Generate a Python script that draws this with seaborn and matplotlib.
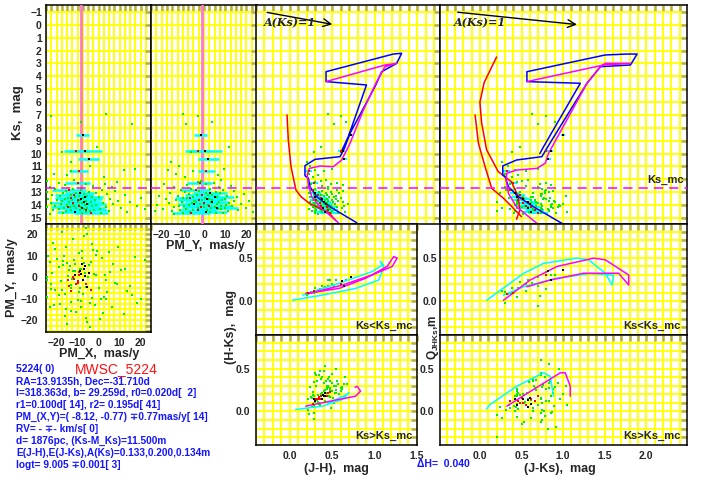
import numpy as np
import pandas as pd
import matplotlib
matplotlib.use('Agg')
import matplotlib.pyplot as plt
import seaborn as sns
from matplotlib.ticker import MultipleLocator, FormatStrFormatter

# --- field stars (green) ---
field_ks = [6.95, 7.08, 7.57, 7.70, 9.47, 9.85, 10.63, 10.95, 11.22, 11.28, 11.33, 11.55, 11.70, 11.85,
            12.05, 12.10, 12.20, 12.28, 12.35, 12.40, 12.45, 12.52, 12.60, 12.62,
            12.75, 12.78, 12.82, 12.86, 12.90, 12.93, 12.97, 13.00, 13.03, 13.06,
            13.10, 13.12, 13.15, 13.18, 13.21, 13.24, 13.27, 13.30, 13.32, 13.35,
            13.38, 13.40, 13.43, 13.45, 13.48, 13.50, 13.52, 13.55, 13.57, 13.60,
            13.62, 13.64, 13.67, 13.69, 13.71, 13.73, 13.76, 13.78, 13.80, 13.82,
            13.84, 13.86, 13.88, 13.90, 13.92, 13.94, 13.96, 13.98, 14.00, 14.02,
            14.04, 14.06, 14.08, 14.10, 14.12, 14.14, 14.16, 14.18, 14.20, 14.22,
            14.24, 14.26, 14.28, 14.30, 14.32, 14.34, 14.36, 14.38, 14.40, 14.42,
            14.44, 14.46, 14.48, 14.50, 14.52, 14.55, 14.58, 14.61, 14.64, 14.68]
field_pmx = [3.5, -22.4, -8.2, 16.0, -0.6, -17.3, -13.3, -4.0, 17.6, 12.0, -13.3, -21.0, -15.0, 2.5,
             -11.5, -24.5, 9.0, -19.0, -6.0, 3.0, -16.0, -2.5, -23.0, 6.5,
             -12.0, -20.5, 1.5, -8.5, -15.5, 8.0, -4.5, -24.6, -10.5, -1.0,
             -17.0, 4.0, -7.0, -13.0, 12.5, -22.0, -5.5, -9.5, -18.5, 0.0,
             -11.0, -3.0, 20.0, -14.5, -7.5, -24.0, 5.5, -16.0, -9.0, -1.5,
             -20.0, -12.5, 9.5, -6.0, -17.5, -3.5, -10.0, 15.0, -14.0, -8.0,
             -22.5, 2.0, -5.0, -12.0, -18.0, 7.0, -9.5, -1.0, -15.0, -6.5,
             18.5, -11.5, -20.5, -3.0, -13.5, 3.5, -8.5, -24.5, -16.5, 10.5,
             -5.5, -10.5, 0.5, -19.0, -7.0, 22.0, -13.0, -2.0, -21.5, -9.0,
             5.0, -15.5, -4.0, 13.5, -11.0, -6.0, -17.0, 1.0, -8.0, -23.0]
field_pmy = [-10.0, -3.0, 4.0, -8.5, 12.0, -6.0, -15.6, -12.0, 9.5, -17.0, -5.0, -13.0, 6.5, -9.0,
             8.0, -1.5, -3.0, 4.5, -19.0, 1.0, -8.0, 12.5, 7.0, -14.0,
             3.0, -6.0, 9.0, -11.0, 14.0, -2.5, 5.5, -9.0, -16.0, 1.0,
             7.5, -7.0, 19.0, -3.5, 4.0, 2.0, -21.0, 11.0, -12.5, -5.0,
             6.0, 15.5, -10.0, 0.5, -8.0, 10.0, 2.5, -18.0, 4.0, -13.0,
             8.5, -1.0, 14.0, -4.5, 21.0, 7.0, -10.5, -4.0, 3.5, 12.0,
             -5.5, -16.5, 0.0, 17.5, -2.0, 6.0, -7.0, 10.5, -22.0, 2.0,
             -12.0, 8.0, 13.0, -9.5, 5.0, -1.5, -14.0, 0.0, 10.0, 3.5,
             20.0, -3.0, -19.5, -8.5, 6.5, 8.0, -11.5, 1.5, 16.0, -5.0,
             11.5, -15.0, -23.0, -6.5, 3.0, 23.0, 5.5, -10.0, 9.0, -14.0]
field_jh = [0.45, 0.60, 0.66, 0.52, 0.36, 0.28, 0.20, 0.24, 0.50, 0.30, 0.40, 0.22, 0.33, 0.27,
            0.42, 0.36, 0.30, 0.55, 0.48, 0.25, 0.62, 0.38, 0.20, 0.45,
            0.30, 0.45, 0.55, 0.26, 0.38, 0.62, 0.34, 0.48, 0.22, 0.42,
            0.58, 0.30, 0.50, 0.36, 0.44, 0.28, 0.54, 0.32, 0.40, 0.52,
            0.24, 0.46, 0.35, 0.60, 0.29, 0.43, 0.38, 0.54, 0.31, 0.49,
            0.27, 0.41, 0.57, 0.33, 0.45, 0.23, 0.62, 0.37, 0.51, 0.28,
            0.44, 0.35, 0.68, 0.40, 0.30, 0.53, 0.46, 0.25, 0.42, 0.36,
            0.48, 0.32, 0.42, 0.64, 0.27, 0.50, 0.39, 0.55, 0.34, 0.45,
            0.29, 0.61, 0.37, 0.47, 0.22, 0.52, 0.43, 0.31, 0.36, 0.40,
            0.26, 0.50, 0.29, 0.65, 0.38, 0.44, 0.30, 0.56, 0.48, 0.33]
field_jks = [0.63, 0.80, 0.90, 0.70, 0.48, 0.38, 0.27, 0.34, 0.70, 0.42, 0.55, 0.30, 0.46, 0.38,
             0.58, 0.50, 0.45, 0.80, 0.72, 0.36, 0.85, 0.55, 0.30, 0.70,
             0.42, 0.75, 0.80, 0.31, 0.78, 0.88, 0.48, 0.83, 0.24, 0.64,
             0.78, 0.75, 0.74, 0.44, 0.74, 0.46, 1.03, 0.45, 0.73, 0.62,
             0.52, 0.64, 0.77, 0.84, 0.35, 0.79, 0.53, 0.76, 0.61, 0.53,
             0.46, 0.66, 0.89, 0.44, 0.83, 0.20, 0.90, 0.57, 0.67, 0.62,
             0.70, 0.44, 1.00, 0.87, 0.44, 0.74, 0.86, 0.42, 0.95, 0.43,
             0.75, 0.67, 0.54, 0.96, 0.50, 0.94, 0.58, 0.85, 0.44, 0.73,
             0.27, 0.88, 0.75, 0.64, 0.36, 0.82, 0.65, 0.73, 0.83, 0.64,
             0.42, 0.83, 0.20, 1.05, 0.59, 0.73, 0.41, 0.92, 0.73, 0.52]
field_q = [0.21, 0.34, 0.30, 0.28, 0.22, 0.15, 0.12, 0.08, 0.18, 0.12, 0.20, 0.11, 0.15, 0.09,
           0.24, 0.16, 0.05, 0.14, 0.06, 0.10, 0.30, 0.12, -0.02, -0.05,
           0.14, 0.28, 0.12, 0.02, -0.05, 0.26, 0.19, 0.33, 0.05, 0.04,
           0.40, -0.10, 0.16, 0.18, -0.02, 0.22, 0.30, 0.20, 0.15, -0.08,
           0.10, 0.36, 0.00, 0.35, 0.08, 0.26, -0.12, 0.31, 0.13, 0.10,
           0.03, 0.27, 0.06, 0.09, 0.12, -0.04, 0.28, 0.21, 0.37, 0.15,
           0.07, 0.24, 0.20, -0.01, -0.06, 0.42, 0.18, 0.00, 0.50, 0.05,
           0.02, 0.25, 0.11, 0.15, -0.15, 0.33, 0.14, -0.02, 0.26, 0.45,
           -0.08, 0.22, 0.10, 0.38, 0.04, -0.20, 0.30, -0.12, 0.55, 0.01,
           0.18, 0.27, -0.30, 0.08, 0.34, 0.60, 0.06, -0.18, 0.16, 0.20]

# --- probable members (red / black) with errors ---
memb_ks = [8.56, 9.78, 9.82, 10.45, 11.35, 12.31, 12.85, 13.05, 13.20, 13.35, 13.45,
           13.55, 13.62, 13.75, 13.85, 13.95, 14.05, 14.15, 14.25, 14.40, 14.50, 14.60]
memb_pmx = [-7.5, -6.2, -10.6, -4.6, -9.4, -10.0, -14.0, -9.0, -11.5, -6.5, -13.0,
            -8.5, -10.0, -7.0, -12.0, -5.5, -9.5, -14.5, -8.0, -6.0, -11.0, -3.5]
memb_pmx_err = [3.0, 8.0, 6.0, 5.0, 4.5, 6.0, 8.0, 7.0, 9.0, 8.5, 7.5,
                10.0, 9.0, 8.0, 11.0, 9.0, 10.0, 8.0, 11.0, 10.0, 9.0, 8.0]
memb_pmy = [-1.5, 0.5, -3.0, 2.0, 1.0, -2.0, -4.0, 3.0, -1.0, 5.0, -6.5,
            1.5, -2.5, 4.0, 0.0, -4.5, 2.5, -1.5, 6.0, -3.0, 1.0, -6.0]
memb_pmy_err = [3.0, 8.0, 6.0, 5.0, 4.0, 6.0, 7.0, 8.0, 8.0, 9.0, 7.0,
                9.0, 10.0, 8.0, 9.0, 8.0, 11.0, 9.0, 10.0, 9.0, 10.0, 9.0]
memb_jh = [0.72, 0.62, 0.60, 0.64, 0.22, 0.28, 0.27, 0.30, 0.33, 0.29, 0.36,
           0.38, 0.31, 0.40, 0.35, 0.42, 0.37, 0.44, 0.39, 0.45, 0.41, 0.47]
memb_jks = [1.00, 0.85, 0.80, 0.82, 0.32, 0.40, 0.36, 0.42, 0.48, 0.44, 0.50,
            0.52, 0.46, 0.58, 0.52, 0.60, 0.55, 0.62, 0.58, 0.66, 0.62, 0.70]
memb_q = [0.36, 0.25, 0.30, 0.35, 0.08, 0.10, 0.12, 0.14, 0.10, 0.08, 0.16,
          0.15, 0.12, 0.13, 0.10, 0.16, 0.08, 0.14, 0.05, 0.12, 0.09, 0.18]
memb_col_err = [0.02, 0.03, 0.03, 0.03, 0.04, 0.05, 0.05, 0.06, 0.06, 0.07, 0.07,
                0.08, 0.08, 0.08, 0.09, 0.09, 0.10, 0.10, 0.10, 0.11, 0.11, 0.12]
memb_kind = ['black', 'black', 'red', 'black', 'red', 'red', 'red', 'black', 'red', 'black', 'red',
             'black', 'red', 'black', 'red', 'black', 'red', 'red', 'black', 'red', 'black', 'red']

# cluster parameters
pm_x0, pm_y0 = -8.12, -0.77
ks_mc = 12.67
red_vec_jh, red_vec_jks, red_vec_ak = 0.83, 1.5, 1.0

# --- isochrones ---
blue_c_jh = [0.785, 0.47, 0.314, 0.235, 0.216, 0.176, 0.176, 0.294, 0.588, 0.64, 0.706, 1.0, 1.079,
             1.255, 1.314, 1.215, 0.424, 0.424, 0.9, 0.686, 0.60]
blue_c_ks = [15.37, 14.13, 13.35, 12.57, 11.92, 11.72, 10.94, 10.45, 10.24, 9.6, 8.43, 4.8, 3.64,
             2.99, 2.21, 2.27, 3.64, 4.41, 4.67, 8.69, 9.9]
mag_c_jh = [0.569, 0.353, 0.255, 0.216, 0.204, 0.227, 0.353, 0.51, 0.608, 0.706, 0.863, 1.02,
            1.118, 1.255, 1.118, 0.424]
mag_c_ks = [15.37, 14.13, 13.35, 12.44, 11.67, 11.15, 10.97, 11.02, 10.5, 9.21, 6.62, 4.41,
            3.25, 2.99, 3.12, 4.41]
red_c_jh = [-0.035, -0.02, 0.012, 0.07, 0.13, 0.227, 0.46, 0.54]
red_c_ks = [7.0, 8.95, 11.02, 12.83, 13.35, 13.86, 14.6, 15.21]

blue_d_jks = [0.986, 0.644, 0.463, 0.343, 0.303, 0.275, 0.275, 0.44, 0.745, 0.865, 1.287, 1.45,
              1.81, 1.89, 1.77, 1.508, 0.565, 0.565, 1.207, 0.765, 0.72]
blue_d_ks = [15.42, 14.13, 13.35, 12.57, 11.8, 11.66, 10.96, 10.5, 10.24, 8.95, 4.54, 3.25,
             3.12, 2.27, 2.27, 2.34, 3.64, 4.41, 4.54, 9.47, 10.0]
mag_d_jks = [0.685, 0.44, 0.343, 0.315, 0.323, 0.44, 0.685, 0.785, 0.825, 1.287, 1.448, 1.508,
             1.81, 1.488, 0.565]
mag_d_ks = [15.42, 14.13, 13.1, 12.05, 11.53, 11.28, 11.15, 10.75, 9.98, 4.54, 3.25, 2.99,
            2.99, 3.12, 4.41]
red_d1_jks = [-0.058, -0.018, 0.062, 0.142, 0.283, 0.38, 0.5]
red_d1_ks = [7.0, 9.2, 11.02, 12.7, 13.47, 14.1, 14.9]
red_d2_jks = [0.2, 0.05, 0.0, 0.02, 0.08, 0.22, 0.38, 0.46, 0.48, 0.44]
red_d2_ks = [2.5, 4.5, 6.0, 7.6, 9.7, 11.4, 12.2, 13.35, 14.4, 15.1]

cyan_f_jh = [0.031, 0.384, 0.776, 1.05, 1.11, 1.07, 1.10, 0.97, 0.58, 0.267, 0.15]
cyan_f_hks = [0.012, 0.07, 0.147, 0.244, 0.40, 0.457, 0.42, 0.34, 0.206, 0.108, 0.07]
mag_f_jh = [0.188, 0.58, 0.894, 1.149, 1.227, 1.267, 1.208, 0.97, 0.62, 0.227]
mag_f_hks = [0.089, 0.147, 0.264, 0.40, 0.515, 0.496, 0.40, 0.302, 0.186, 0.089]
cyan_g_jh = [0.07, 0.384, 0.62, 0.698, 0.66, 0.45]
cyan_g_hks = [0.023, 0.062, 0.14, 0.217, 0.19, 0.10]
mag_g_jh = [0.188, 0.58, 0.776, 0.835, 0.796, 0.77]
mag_g_hks = [0.062, 0.14, 0.178, 0.236, 0.294, 0.28]
cyan_h_jks = [0.08, 0.524, 0.765, 1.167, 1.307, 1.508, 1.589, 1.608, 1.327, 0.926, 0.524, 0.283]
cyan_h_q = [0.01, 0.32, 0.436, 0.496, 0.477, 0.322, 0.186, 0.30, 0.32, 0.264, 0.167, 0.07]
mag_h_jks = [0.283, 0.604, 0.926, 1.367, 1.508, 1.789, 1.789, 1.668, 1.247, 0.845, 0.565]
mag_h_q = [0.01, 0.244, 0.40, 0.496, 0.477, 0.302, 0.186, 0.322, 0.322, 0.244, 0.167]
cyan_i_jks = [0.08, 0.122, 0.444, 0.765, 0.845, 0.885]
cyan_i_q = [0.03, 0.081, 0.294, 0.45, 0.41, 0.178]
mag_i_jks = [0.323, 0.644, 0.966, 1.026, 1.086, 1.086]
mag_i_q = [0.062, 0.256, 0.45, 0.45, 0.294, 0.178]

info_lines = ["RA=13.9135h, Dec=-31.710d",
              "l=318.363d, b= 29.259d, r0=0.020d[  2]",
              "r1=0.100d[ 14], r2= 0.195d[ 41]",
              "PM_(X,Y)=( -8.12, -0.77) \u22130.77mas/y[ 14]",
              "RV= - \u2213- km/s[ 0]",
              "d= 1876pc, (Ks-M_Ks)=11.500m",
              "E(J-H),E(J-Ks),A(Ks)=0.133,0.200,0.134m",
              "logt= 9.005 \u22130.001[ 3]"]

field = pd.DataFrame({'ks': field_ks, 'pmx': field_pmx, 'pmy': field_pmy,
                      'jh': field_jh, 'jks': field_jks, 'q': field_q})
field['hks'] = field['jks'] - field['jh']
memb = pd.DataFrame({'ks': memb_ks, 'pmx': memb_pmx, 'pmx_err': memb_pmx_err,
                     'pmy': memb_pmy, 'pmy_err': memb_pmy_err, 'jh': memb_jh,
                     'jks': memb_jks, 'q': memb_q, 'col_err': memb_col_err, 'kind': memb_kind})
memb['hks'] = memb['jks'] - memb['jh']

sns.set_style('white')
plt.rcParams['font.family'] = ['Liberation Sans', 'DejaVu Sans']
plt.rcParams['font.weight'] = 'bold'
plt.rcParams['mathtext.default'] = 'regular'

W, H = 707, 486
fig = plt.figure(figsize=(W / 100, H / 100), dpi=100)


def box(l, t, r, b):
    return [l / W, 1 - b / H, (r - l) / W, (b - t) / H]


def ftext(x, y, s, **kw):
    kw.setdefault('ha', 'center')
    kw.setdefault('va', 'center')
    fig.text(x / W, 1 - y / H, s, **kw)


def style(ax, xlim, ylim, xmaj, xmin, ymaj, ymin):
    ax.set_xlim(*xlim)
    ax.set_ylim(*ylim)
    ax.xaxis.set_major_locator(MultipleLocator(xmaj))
    ax.xaxis.set_minor_locator(MultipleLocator(xmin))
    ax.yaxis.set_major_locator(MultipleLocator(ymaj))
    ax.yaxis.set_minor_locator(MultipleLocator(ymin))
    ax.grid(True, which='both', color='#ffff00', lw=1.3)
    ax.set_axisbelow(True)
    ax.tick_params(which='both', direction='in', top=True, right=True, length=4, width=1.8,
                   color='#b4b04c', labelsize=7.5, labelleft=False, labelbottom=False, pad=2)
    for sp in ax.spines.values():
        sp.set_color('black')
        sp.set_linewidth(1.1)
    ax.set_xlabel('')
    ax.set_ylabel('')


def dots(ax, x, y, fsel=None, msel=None):
    f = field if fsel is None else field[fsel]
    m = memb if msel is None else memb[msel]
    sns.scatterplot(data=f, x=x, y=y, ax=ax, color='#00ee00', s=3.5, marker='s',
                    linewidth=0, legend=False, zorder=4)
    for kind, col in [('red', '#ff0000'), ('black', '#000000')]:
        sub = m[m['kind'] == kind]
        sns.scatterplot(data=sub, x=x, y=y, ax=ax, color=col, s=4.5, marker='s',
                        linewidth=0, legend=False, zorder=6)


def line(ax, x, y, col, lw=1.1):
    sns.lineplot(x=x, y=y, ax=ax, sort=False, estimator=None, color=col, lw=lw, zorder=5)


ks_lim = (15.47, -1.54)

# Ks vs PM_X / PM_Y
axA = fig.add_axes(box(46, 5, 151, 224))
axB = fig.add_axes(box(151, 5, 257, 224))
for ax, pm, err, x0 in [(axA, 'pmx', 'pmx_err', pm_x0), (axB, 'pmy', 'pmy_err', pm_y0)]:
    ax.axvline(x0, color='#ff77cc', lw=2.0, zorder=3)
    ax.errorbar(memb[pm], memb['ks'], xerr=memb[err], fmt='none', ecolor='#00ffff',
                elinewidth=1.8, zorder=3)
    dots(ax, pm, 'ks')
    ax.axhline(ks_mc, color='#ff00ff', lw=1.1, ls=(0, (6, 4)), zorder=5)
    style(ax, (-25, 25), ks_lim, 10, 2.5, 1, 1)
axA.tick_params(labelleft=True, pad=3)
axB.tick_params(labelbottom=True, pad=4)

# CMDs
axC = fig.add_axes(box(256, 5, 440, 224))
axD = fig.add_axes(box(440, 5, 687, 224))
axC.errorbar(memb['jh'], memb['ks'], xerr=memb['col_err'], fmt='none', ecolor='#00ffff',
             elinewidth=1.5, zorder=3)
axD.errorbar(memb['jks'], memb['ks'], xerr=memb['col_err'], fmt='none', ecolor='#00ffff',
             elinewidth=1.5, zorder=3)
dots(axC, 'jh', 'ks')
dots(axD, 'jks', 'ks')
line(axC, red_c_jh, red_c_ks, '#ff0000')
line(axC, blue_c_jh, blue_c_ks, '#0000ff')
line(axC, mag_c_jh, mag_c_ks, '#ff00ff')
line(axD, red_d1_jks, red_d1_ks, '#ff0000')
line(axD, red_d2_jks, red_d2_ks, '#ff0000')
line(axD, blue_d_jks, blue_d_ks, '#0000ff')
line(axD, mag_d_jks, mag_d_ks, '#ff00ff')
for ax, vec in [(axC, red_vec_jh), (axD, red_vec_jks)]:
    ax.axhline(ks_mc, color='#ff00ff', lw=1.1, ls=(0, (6, 4)), zorder=5)
    ax.annotate('', xy=(-0.3 + vec, -1.0 + red_vec_ak), xytext=(-0.3, -1.0),
                arrowprops=dict(arrowstyle='->', color='black', lw=1, mutation_scale=14))
    ax.text(-0.31, -0.55, 'A(Ks)=1', style='italic', fontsize=8, ha='left', va='top',
            family='DejaVu Serif')
style(axC, (-0.4, 1.765), ks_lim, 0.5, 0.1, 1, 1)
style(axD, (-0.48, 2.49), ks_lim, 0.5, 0.1, 1, 1)
axD.text(2.45, ks_mc - 0.2, 'Ks_mc', ha='right', va='bottom', fontsize=8)

# PM vector diagram
axE = fig.add_axes(box(46, 224, 151, 332))
dots(axE, 'pmx', 'pmy')
style(axE, (-25, 25), (-25.5, 24.7), 10, 2.5, 10, 2.5)
axE.tick_params(labelleft=True, labelbottom=True, pad=4)
axE.tick_params(axis='y', pad=6)

# two-colour diagrams
bright_f, bright_m = field['ks'] < ks_mc, memb['ks'] < ks_mc
axF = fig.add_axes(box(256, 224, 417, 335))
axG = fig.add_axes(box(256, 335, 417, 445))
axH = fig.add_axes(box(440, 224, 687, 335))
axI = fig.add_axes(box(440, 335, 687, 445))
dots(axF, 'jh', 'hks', bright_f, bright_m)
dots(axG, 'jh', 'hks', ~bright_f, ~bright_m)
dots(axH, 'jks', 'q', bright_f, bright_m)
dots(axI, 'jks', 'q', ~bright_f, ~bright_m)
line(axF, cyan_f_jh, cyan_f_hks, '#00ffff')
line(axF, mag_f_jh, mag_f_hks, '#ff00ff')
line(axG, cyan_g_jh, cyan_g_hks, '#00ffff')
line(axG, mag_g_jh, mag_g_hks, '#ff00ff')
line(axH, cyan_h_jks, cyan_h_q, '#00ffff')
line(axH, mag_h_jks, mag_h_q, '#ff00ff')
line(axI, cyan_i_jks, cyan_i_q, '#00ffff')
line(axI, mag_i_jks, mag_i_q, '#ff00ff')
for ax, xl in [(axF, (-0.4, 1.502)), (axG, (-0.4, 1.502)), (axH, (-0.48, 2.49)), (axI, (-0.48, 2.49))]:
    style(ax, xl, (-0.39, 0.89), 0.5, 0.1, 0.5, 0.1)
    ax.xaxis.set_major_formatter(FormatStrFormatter('%.1f'))
    ax.yaxis.set_major_formatter(FormatStrFormatter('%.1f'))
    ax.tick_params(labelleft=True, pad=2)
for ax in (axG, axI):
    ax.tick_params(labelbottom=True, pad=4)
for ax, s in [(axF, 'Ks<Ks_mc'), (axG, 'Ks>Ks_mc'), (axH, 'Ks<Ks_mc'), (axI, 'Ks>Ks_mc')]:
    ax.text(0.975, 0.04, s, transform=ax.transAxes, ha='right', va='bottom', fontsize=8)

# axis labels
ftext(18, 113, 'Ks,  mag', rotation=90, fontsize=9.5)
ftext(205, 246, 'PM_Y,  mas/y', fontsize=9)
ftext(12, 278, 'PM_Y,  mas/y', rotation=90, fontsize=9)
ftext(99, 354, 'PM_X,  mas/y', fontsize=9)
ftext(231, 327, '(H-Ks),  mag', rotation=90, fontsize=9)
ftext(433, 337, 'Q$_{JHKs}$,m', rotation=90, fontsize=8.5)
ftext(336, 469, '(J-H),  mag', fontsize=9)
ftext(560, 469, '(J-Ks),  mag', fontsize=9)
ftext(417, 464, '\u0394H=  0.040', ha='left', fontsize=7.5, color='#1515ff')

# info block
ftext(16, 369, '5224( 0)', ha='left', fontsize=7.5, color='#1515ff')
ftext(75, 369, 'MWSC_5224', ha='left', fontsize=10, color='#ff1010', weight='normal')
for i, s in enumerate(info_lines):
    ftext(16, 381.5 + i * 11.9, s, ha='left', fontsize=7.3, color='#1515ff')

fig.savefig('out.png', dpi=100)
